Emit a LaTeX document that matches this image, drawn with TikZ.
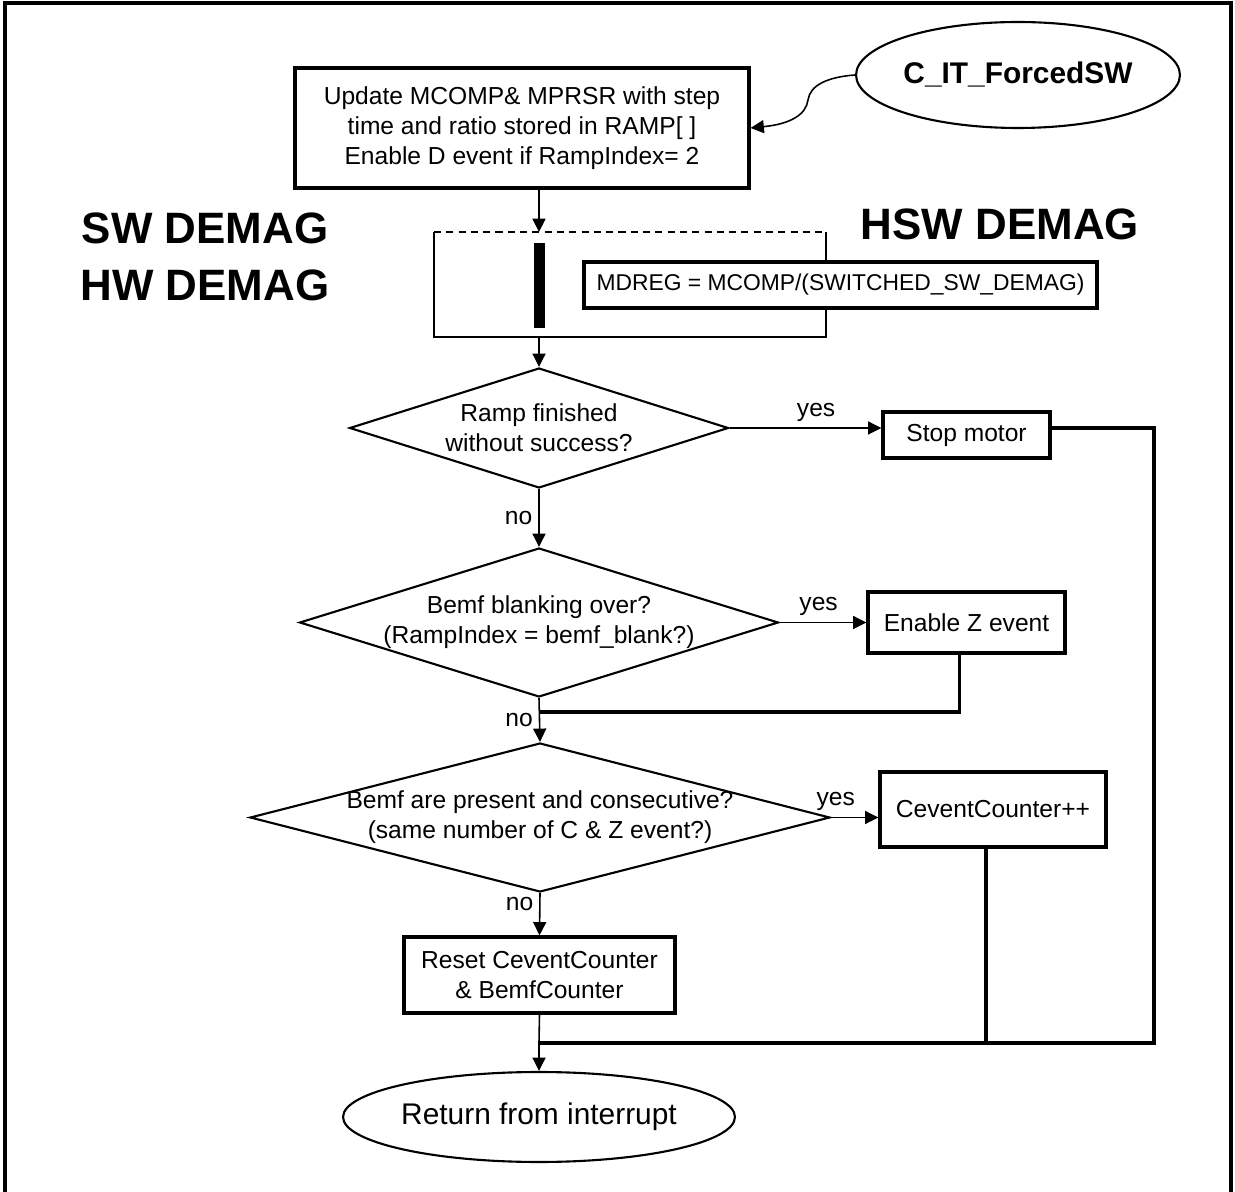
\documentclass[tikz,border=0pt]{standalone}
\usepackage{fontspec}
\setmainfont{Liberation Sans}
\usetikzlibrary{shapes.geometric,arrows.meta}
\begin{document}
\begin{tikzpicture}[x=0.02cm,y=-0.02cm,font=\fontsize{14}{17}\selectfont,
	box/.style={draw,line width=1.8pt,align=center,inner sep=0pt},
	decision/.style={draw,diamond,line width=1.2pt,inner sep=0pt},
	term/.style={draw,ellipse,line width=1.2pt,inner sep=0pt},
	flow/.style={line width=0.9pt,-{Triangle[length=7.6pt,width=7.4pt]}},
	backline/.style={line width=1.8pt},
	big/.style={font=\bfseries\fontsize{25}{30}\selectfont}]
	\useasboundingbox (0,0) rectangle (1235,1192);
	\draw[line width=1.8pt] (5,1192) -- (5,3) -- (1231,3) -- (1231,1192);
	\node[box,minimum width=9.08cm,minimum height=2.4cm] (upd) at (522,128) {Update MCOMP\& MPRSR with step\\time and ratio stored in RAMP[ ]\\Enable D event if RampIndex= 2};
	\node[term,minimum width=6.04cm,minimum height=2.12cm,font=\bfseries\fontsize{17}{20}\selectfont] (cit) at (1018,75) {C\_IT\_ForcedSW};
	\coordinate (bend) at (808,100);
	\draw[flow] (cit.west) .. controls (828,77) and (810,85) .. (bend) .. controls (806,115) and (790,124) .. (upd.east);
	\node[big] (swd) at (205,228) {SW DEMAG};
	\node[big] (hwd) at (205,285) {HW DEMAG};
	\node[big] (hswd) at (1000,224) {HSW DEMAG};
	\coordinate (dtl) at (434,232);
	\coordinate (dtr) at (826,232);
	\coordinate (dbl) at (434,337);
	\coordinate (dbr) at (826,337);
	\coordinate (dtop) at (539,232);
	\coordinate (dbot) at (539,337);
	\draw[line width=1.5pt,dash pattern=on 4pt off 3pt] (dtl) -- (dtr);
	\draw[line width=1.5pt] (dtl) -- (dbl) -- (dbr) -- (dtr);
	\fill (534,243) rectangle (545,328);
	\node[box,fill=white,minimum width=10.26cm,minimum height=0.92cm,font=\fontsize{13}{16}\selectfont] (mdreg) at (840.5,285) {MDREG = MCOMP/(SWITCHED\_SW\_DEMAG)};
	\draw[flow] (upd.south -| dtop) -- (dtop);
	\node[decision,minimum width=7.58cm,minimum height=2.4cm,label={[align=center]center:{Ramp finished\\without success?}}] (d1) at (539,428) {};
	\node[decision,minimum width=9.58cm,minimum height=2.98cm,label={[align=center]center:{Bemf blanking over?\\(RampIndex = bemf\_blank?)}}] (d2) at (539,622.5) {};
	\node[decision,minimum width=11.6cm,minimum height=2.98cm,label={[align=center]center:{Bemf are present and consecutive?\\(same number of C \& Z event?)}}] (d3) at (540,817.5) {};
	\node[box,minimum width=3.34cm,minimum height=0.92cm] (stop) at (966.5,435) {Stop motor};
	\node[box,minimum width=3.94cm,minimum height=1.22cm] (enz) at (966.5,622.5) {Enable Z event};
	\node[box,minimum width=4.52cm,minimum height=1.5cm] (cnt) at (993,809.5) {CeventCounter++};
	\node[box,minimum width=5.42cm,minimum height=1.52cm] (rst) at (539.5,975) {Reset CeventCounter\\\& BemfCounter};
	\node[term,minimum width=7.84cm,minimum height=1.8cm,font=\fontsize{17}{20}\selectfont] (ret) at (539,1117) {Return from interrupt};
	\draw[flow] (dbot) -- (d1.north);
	\draw[flow] (d1.east) -- (d1.east -| stop.west) node[pos=.57,above] {yes};
	\draw[flow] (d1.south) -- (d2.north) node[midway,left] {no};
	\draw[flow] (d2.east) -- (d2.east -| enz.west) node[pos=.45,above] {yes};
	\draw[flow] (d2.south) -- (d3.north) node[midway,left] {no};
	\draw[flow] (d3.east) -- (d3.east -| cnt.west) node[pos=.1,above] {yes};
	\draw[flow] (d3.south) -- (rst.north) node[pos=.25,left] {no};
	\coordinate (zjoin) at (539,712);
	\coordinate (join) at (539,1043);
	\coordinate (loopr) at (1154,428);
	\draw[backline] (stop.east |- loopr) -- (loopr) |- (join);
	\draw[backline] ([xshift=-0.14cm]enz.south) |- (zjoin);
	\draw[backline] ([xshift=-0.14cm]cnt.south) |- (join);
	\draw[line width=0.9pt] (rst.south) -- (join);
	\draw[flow] (join) -- (ret.north);
\end{tikzpicture}
\end{document}
